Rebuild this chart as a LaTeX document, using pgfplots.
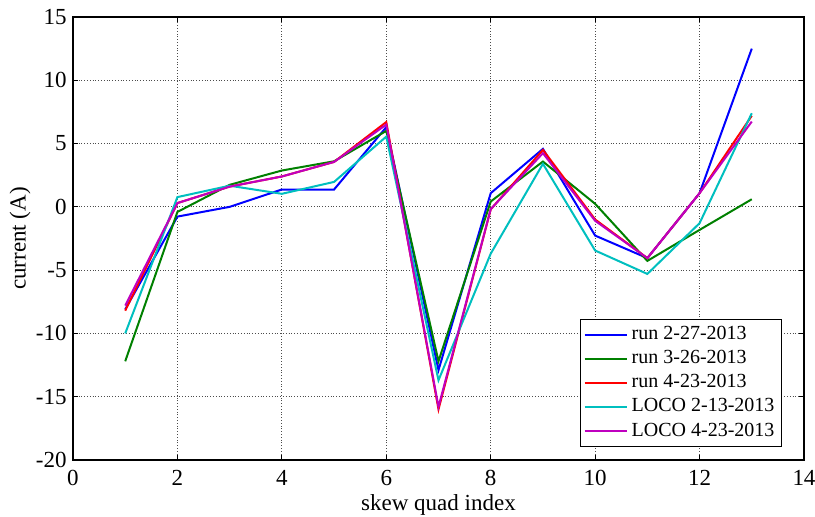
\documentclass[border=0pt]{standalone}
\usepackage{fontspec}
\setmainfont{Liberation Serif}
\usepackage{pgfplots}
\pgfplotsset{compat=1.18}
\definecolor{mgreen}{rgb}{0,0.5,0}
\definecolor{mcyan}{rgb}{0,0.75,0.75}
\definecolor{mmag}{rgb}{0.75,0,0.75}
\begin{document}
\fontsize{11.5}{13.5}\selectfont
\begin{tikzpicture}
\begin{axis}[
  scale only axis,
  width=365.5pt, height=221.5pt,
  xmin=0, xmax=14, ymin=-20, ymax=15,
  xtick={0,2,...,14}, ytick={-20,-15,...,15},
  grid=major,
  major grid style={densely dotted, black!70, line width=0.4pt},
  axis line style={line width=0.8pt},
  tick style={black, line width=0.5pt},
  major tick length=2.5pt,
  /pgf/number format/assume math mode=true,
  ticklabel style={font=\fontsize{11.5}{13.5}\selectfont},
  xticklabel style={anchor=base, yshift=-13pt},
  yticklabel style={inner sep=0pt, xshift=-3pt},
  xlabel={skew quad index}, ylabel={current (A)},
  label style={font=\fontsize{11.5}{13.5}\selectfont},
  xlabel style={at={(axis description cs:0.5,-0.1151)}, anchor=base},
  ylabel style={at={(axis description cs:-0.0725,0.5)}, anchor=center},
  every axis plot/.append style={line width=1pt},
  legend style={at={(axis description cs:0.970,0.029)}, anchor=south east,
    draw=black, line width=0.6pt, font=\fontsize{10}{12}\selectfont,
    inner sep=1.5pt, row sep=-0.3pt},
  legend cell align=left,
  legend image code/.code={\draw[#1] (0pt,0pt) -- (21pt,0pt);},
]
\addplot[blue] coordinates {(1,-8.1) (2,-0.77) (3,0) (4,1.37) (5,1.37) (6,6.3) (7,-12.9) (8,1.08) (9,4.58) (10,-2.27) (11,-4.05) (12,1.08) (13,12.5)};
\addlegendentry{run 2-27-2013}
\addplot[mgreen] coordinates {(1,-12.2) (2,-0.4) (3,1.74) (4,2.87) (5,3.6) (6,6.0) (7,-12.2) (8,0.42) (9,3.58) (10,0.24) (11,-4.27) (12,-1.82) (13,0.6)};
\addlegendentry{run 3-26-2013}
\addplot[red] coordinates {(1,-8.2) (2,0.3) (3,1.6) (4,2.4) (5,3.55) (6,6.7) (7,-16.0) (8,-0.2) (9,4.5) (10,-1.0) (11,-4.05) (12,1.08) (13,7.2)};
\addlegendentry{run 4-23-2013}
\addplot[mcyan] coordinates {(1,-10.0) (2,0.77) (3,1.67) (4,1.03) (5,1.97) (6,5.55) (7,-13.7) (8,-3.7) (9,3.4) (10,-3.45) (11,-5.3) (12,-1.29) (13,7.4)};
\addlegendentry{LOCO 2-13-2013}
\addplot[mmag] coordinates {(1,-7.8) (2,0.3) (3,1.6) (4,2.4) (5,3.55) (6,6.5) (7,-15.8) (8,-0.18) (9,4.24) (10,-1.1) (11,-4.05) (12,1.08) (13,6.74)};
\addlegendentry{LOCO 4-23-2013}
\end{axis}
\pgfresetboundingbox
\path (current axis.south west) ++(-36.5pt,-28.5pt) rectangle ([shift={(5.5pt,8.5pt)}]current axis.north east);
\end{tikzpicture}
\end{document}
